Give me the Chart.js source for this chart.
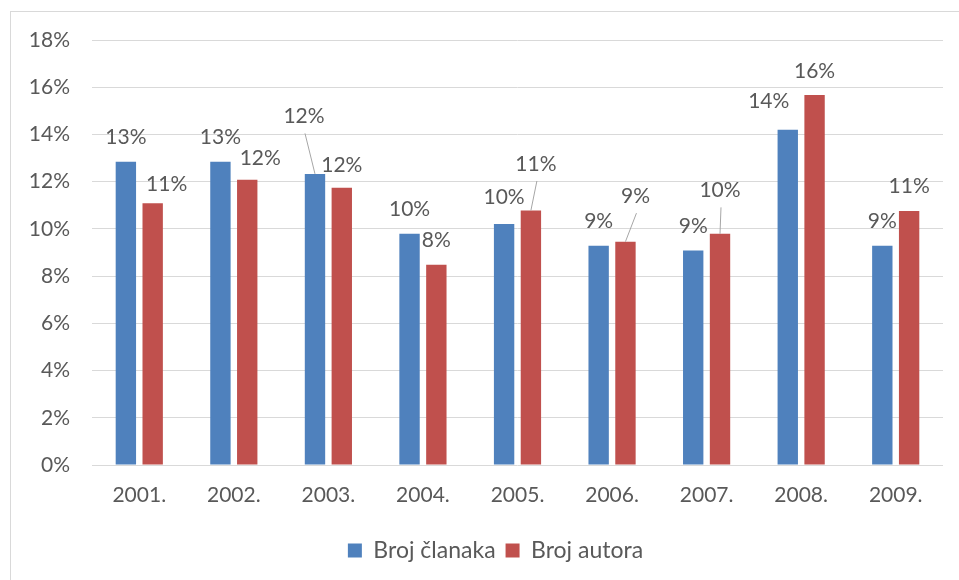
<!DOCTYPE html>
<html>
<head>
<meta charset="utf-8">
<script src="https://cdn.jsdelivr.net/npm/chart.js@4"></script>
<style>
  html, body { margin: 0; padding: 0; background: #fff; }
  #wrap { position: relative; width: 959px; height: 580px; overflow: hidden; }
  #frame { position: absolute; left: 10px; top: 11px; width: 980px; height: 600px;
           border: 1px solid #d9d9d9; pointer-events: none; }
  canvas { position: absolute; left: 0; top: 0; }
</style>
</head>
<body>
<div id="wrap">
  <canvas id="chart" width="959" height="580"></canvas>
  <div id="frame"></div>
</div>
<script>
// godine i udjeli (%)
var years = ['2001.', '2002.', '2003.', '2004.', '2005.', '2006.', '2007.', '2008.', '2009.'];
var clanci = [12.84, 12.84, 12.33, 9.79, 10.21, 9.29, 9.08, 14.2, 9.29];
var autori = [11.09, 12.08, 11.74, 8.48, 10.78, 9.46, 9.79, 15.67, 10.76];

// pomaci oznaka [dx, dy] i koje oznake imaju spojnu liniju
var shiftClanci = [[0,0],[0,0],[-11,-33],[0,0],[0,-2],[0,0],[0,0],[-19,-4],[0,0]];
var shiftAutori = [[14,5],[13,3],[0,2],[0,0],[5,-22],[10,-21],[0,-19],[0,0],[0,0]];
var leaderClanci = [2];
var leaderAutori = [4, 5, 6];

var textColor = '#595959';
var fontFamily = 'Lato, "Open Sans", sans-serif';

var valueLabels = {
    id: 'valueLabels',
    afterDatasetsDraw: function(chart) {
        var ctx = chart.ctx;
        var shifts = [shiftClanci, shiftAutori];
        var leaders = [leaderClanci, leaderAutori];
        ctx.save();
        ctx.font = '21px ' + fontFamily;
        ctx.textAlign = 'center';
        ctx.textBaseline = 'alphabetic';
        chart.data.datasets.forEach(function(ds, di) {
            var meta = chart.getDatasetMeta(di);
            meta.data.forEach(function(bar, i) {
                var s = shifts[di][i];
                var lx = bar.x + s[0];
                var ly = bar.y - 17.5 + s[1];
                ctx.fillStyle = textColor;
                ctx.fillText(Math.round(ds.data[i]) + '%', lx, ly);
                if (leaders[di].indexOf(i) >= 0) {
                    ctx.strokeStyle = '#a6a6a6';
                    ctx.lineWidth = 1;
                    ctx.beginPath();
                    ctx.moveTo(lx + 1, ly + 10);
                    ctx.lineTo(bar.x, bar.y);
                    ctx.stroke();
                }
            });
        });
        ctx.restore();
    }
};

// legenda je centrirana u okviru, a ne iznad osi
var legendShift = {
    id: 'legendShift',
    afterLayout: function(chart) {
        chart.legend.left += 24;
        chart.legend.right += 24;
    }
};

new Chart('chart', {
    type: 'bar',
    data: {
        labels: years,
        datasets: [
            { label: 'Broj članaka', data: clanci, backgroundColor: '#4F81BD' },
            { label: 'Broj autora', data: autori, backgroundColor: '#C0504D' }
        ]
    },
    options: {
        responsive: false,
        animation: false,
        categoryPercentage: 0.567,
        barPercentage: 0.76,
        layout: { padding: { top: 40, right: 16, left: 0, bottom: 8 } },
        scales: {
            x: {
                grid: { display: false },
                border: { display: false },
                ticks: { color: textColor, font: { family: fontFamily, size: 21 }, padding: 10 },
                afterFit: function(scale) { scale.height = 64; }
            },
            y: {
                min: 0,
                max: 18,
                ticks: {
                    stepSize: 2,
                    padding: 22,
                    color: textColor,
                    font: { family: fontFamily, size: 21 },
                    callback: function(v) { return v + '%'; }
                },
                grid: { color: '#d9d9d9', drawTicks: false },
                border: { display: false },
                afterFit: function(scale) { scale.width = 92; }
            }
        },
        plugins: {
            legend: {
                position: 'bottom',
                labels: {
                    color: textColor,
                    font: { family: fontFamily, size: 23 },
                    boxWidth: 14,
                    boxHeight: 14,
                    padding: 10
                }
            },
            tooltip: { enabled: false }
        }
    },
    plugins: [valueLabels, legendShift]
});
</script>
</body>
</html>
